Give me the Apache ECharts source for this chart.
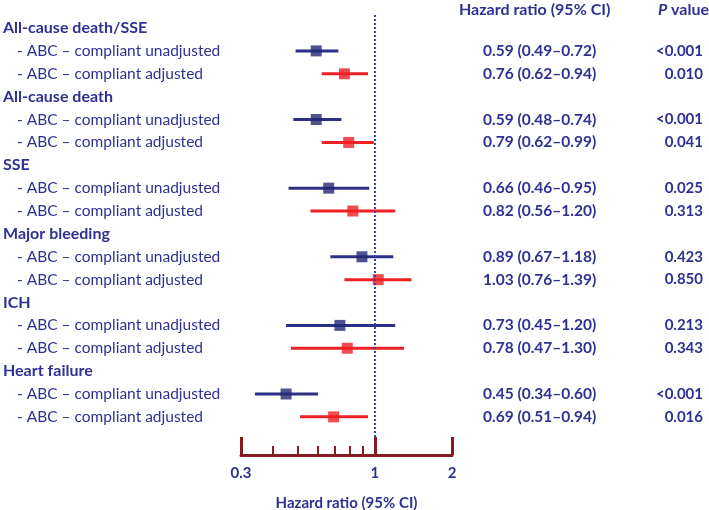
<!DOCTYPE html>
<html>
<head>
<meta charset="utf-8">
<script src="https://cdn.jsdelivr.net/npm/echarts@6.0.0/dist/echarts.min.js"></script>
<style>
  html, body { margin: 0; padding: 0; background: #fff; }
  #chart { width: 709px; height: 510px; }
</style>
</head>
<body>
<div id="chart"></div>
<script>
// 各组名称
const groups = ['All-cause death/SSE', 'All-cause death', 'SSE', 'Major bleeding', 'ICH', 'Heart failure'];
const subLabels = ['- ABC \u2013 compliant unadjusted', '- ABC \u2013 compliant adjusted'];

// unadjusted
const unadjHR = [0.59, 0.59, 0.66, 0.89, 0.73, 0.45];
const unadjLo = [0.49, 0.48, 0.46, 0.67, 0.45, 0.34];
const unadjHi = [0.72, 0.74, 0.95, 1.18, 1.20, 0.60];
const unadjP  = ['<0.001', '<0.001', '0.025', '0.423', '0.213', '<0.001'];

// adjusted
const adjHR = [0.76, 0.79, 0.82, 1.03, 0.78, 0.69];
const adjLo = [0.62, 0.62, 0.56, 0.76, 0.47, 0.51];
const adjHi = [0.94, 0.99, 1.20, 1.39, 1.30, 0.94];
const adjP  = ['0.010', '0.041', '0.313', '0.850', '0.343', '0.016'];

// x 轴刻度
const majorTicks = [0.3, 1, 2];
const minorTicks = [0.4, 0.5, 0.6, 0.7, 0.8, 0.9];

const NAVY = '#2E3192';
const RED = '#ED2024';
const AXIS_RED = '#861B1D';
const FONT = 'Lato, "Open Sans", sans-serif';

// 行：每组一个标题行 + 两个子行
const rowLabels = [];
const rowHR = [];
const rowP = [];
const fmt = v => v.toFixed(2);
groups.forEach((g, i) => {
  rowLabels.push({ text: g, header: true }); rowHR.push(''); rowP.push('');
  rowLabels.push({ text: subLabels[0], header: false });
  rowHR.push(`${fmt(unadjHR[i])} (${fmt(unadjLo[i])}\u2013${fmt(unadjHi[i])})`);
  rowP.push(unadjP[i]);
  rowLabels.push({ text: subLabels[1], header: false });
  rowHR.push(`${fmt(adjHR[i])} (${fmt(adjLo[i])}\u2013${fmt(adjHi[i])})`);
  rowP.push(adjP[i]);
});
const rowIdx = rowLabels.map((_, i) => i);

const unadjPts = unadjHR.map((v, i) => [v, i * 3 + 1]);
const adjPts = adjHR.map((v, i) => [v, i * 3 + 2]);
const unadjCI = unadjLo.map((v, i) => [v, unadjHi[i], i * 3 + 1]);
const adjCI = adjLo.map((v, i) => [v, adjHi[i], i * 3 + 2]);

const yMin = -0.57, yMax = 17.88;

function ciRender(color){
  return function(params, api){
    const a = api.coord([api.value(0), api.value(2)]);
    const b = api.coord([api.value(1), api.value(2)]);
    return {
      type: 'line',
      shape: { x1: a[0], y1: a[1], x2: b[0], y2: b[1] },
      style: { stroke: color, lineWidth: 3 }
    };
  };
}

const chart = echarts.init(document.getElementById('chart'));
chart.setOption({
  animation: false,
  backgroundColor: '#fff',
  title: [
    {
      text: 'Hazard ratio (95% CI)', left: 459, top: 2, padding: 0,
      textStyle: { color: NAVY, fontSize: 16, fontWeight: 'bold', fontFamily: FONT }
    },
    {
      text: '{i|P} value', right: 0, top: 2, padding: 0,
      textStyle: {
        color: NAVY, fontSize: 16, fontWeight: 'bold', fontFamily: FONT,
        rich: { i: { color: NAVY, fontSize: 16, fontWeight: 'bold', fontStyle: 'italic', fontFamily: FONT } }
      }
    }
  ],
  grid: { left: 241, right: 257, top: 15, bottom: 73, containLabel: false, outerBoundsMode: 'none' },
  xAxis: [
    {
      type: 'log', logBase: 10, min: 0.3, max: 2, position: 'bottom', offset: 18,
      axisLine: { show: true, onZero: false, lineStyle: { color: AXIS_RED, width: 3 } },
      axisTick: { show: true, inside: true, length: 18, customValues: majorTicks, lineStyle: { color: AXIS_RED, width: 3 } },
      axisLabel: {
        customValues: majorTicks, margin: 11, formatter: v => String(v),
        color: NAVY, fontSize: 15, fontWeight: 'bold', fontFamily: FONT
      },
      splitLine: { show: false },
      name: 'Hazard ratio (95% CI)', nameLocation: 'middle', nameGap: 41,
      nameTextStyle: { color: NAVY, fontSize: 15, fontWeight: 'bold', fontFamily: FONT }
    },
    {
      type: 'log', logBase: 10, min: 0.3, max: 2, position: 'bottom', offset: 18,
      axisLine: { show: false, onZero: false },
      axisTick: { show: true, inside: true, length: 9, customValues: minorTicks, lineStyle: { color: AXIS_RED, width: 2 } },
      axisLabel: { show: false },
      splitLine: { show: false }
    }
  ],
  yAxis: [
    {
      type: 'value', inverse: true, min: yMin, max: yMax, position: 'left',
      axisLine: { show: false }, axisTick: { show: false }, splitLine: { show: false },
      axisLabel: {
        customValues: rowIdx, align: 'left', margin: 238,
        formatter: v => {
          const r = rowLabels[v];
          return r.header ? `{h|${r.text}}` : `{s|${r.text}}`;
        },
        rich: {
          h: { color: NAVY, fontSize: 16, fontWeight: 'bold', fontFamily: FONT },
          s: { color: NAVY, fontSize: 15.5, fontFamily: FONT, padding: [0, 0, 0, 14] }
        }
      }
    },
    {
      type: 'value', inverse: true, min: yMin, max: yMax, position: 'right',
      axisLine: { show: false }, axisTick: { show: false }, splitLine: { show: false },
      axisLabel: {
        customValues: rowIdx, align: 'left', margin: 31,
        formatter: v => rowHR[v],
        color: NAVY, fontSize: 15.5, fontWeight: 'bold', fontFamily: FONT
      }
    },
    {
      type: 'value', inverse: true, min: yMin, max: yMax, position: 'right',
      axisLine: { show: false }, axisTick: { show: false }, splitLine: { show: false },
      axisLabel: {
        customValues: rowIdx, align: 'right', margin: 251,
        formatter: v => rowP[v],
        color: NAVY, fontSize: 15, fontWeight: 'bold', fontFamily: FONT
      }
    }
  ],
  series: [
    {
      type: 'custom', xAxisIndex: 0, yAxisIndex: 0, data: unadjCI,
      encode: { x: [0, 1], y: 2 }, renderItem: ciRender('#2B2F86'), z: 2, silent: true
    },
    {
      type: 'custom', xAxisIndex: 0, yAxisIndex: 0, data: adjCI,
      encode: { x: [0, 1], y: 2 }, renderItem: ciRender(RED), z: 2, silent: true
    },
    {
      name: 'unadjusted', type: 'scatter', xAxisIndex: 0, yAxisIndex: 0, data: unadjPts,
      symbol: 'rect', symbolSize: 11, itemStyle: { color: '#252874' }, z: 3,
      markLine: {
        silent: true, symbol: 'none', label: { show: false },
        lineStyle: { color: '#3C3FAE', width: 2, type: 'dotted' },
        data: [{ xAxis: 1 }]
      }
    },
    {
      name: 'adjusted', type: 'scatter', xAxisIndex: 0, yAxisIndex: 0, data: adjPts,
      symbol: 'rect', symbolSize: 11, itemStyle: { color: RED }, z: 3
    }
  ]
});
</script>
</body>
</html>
